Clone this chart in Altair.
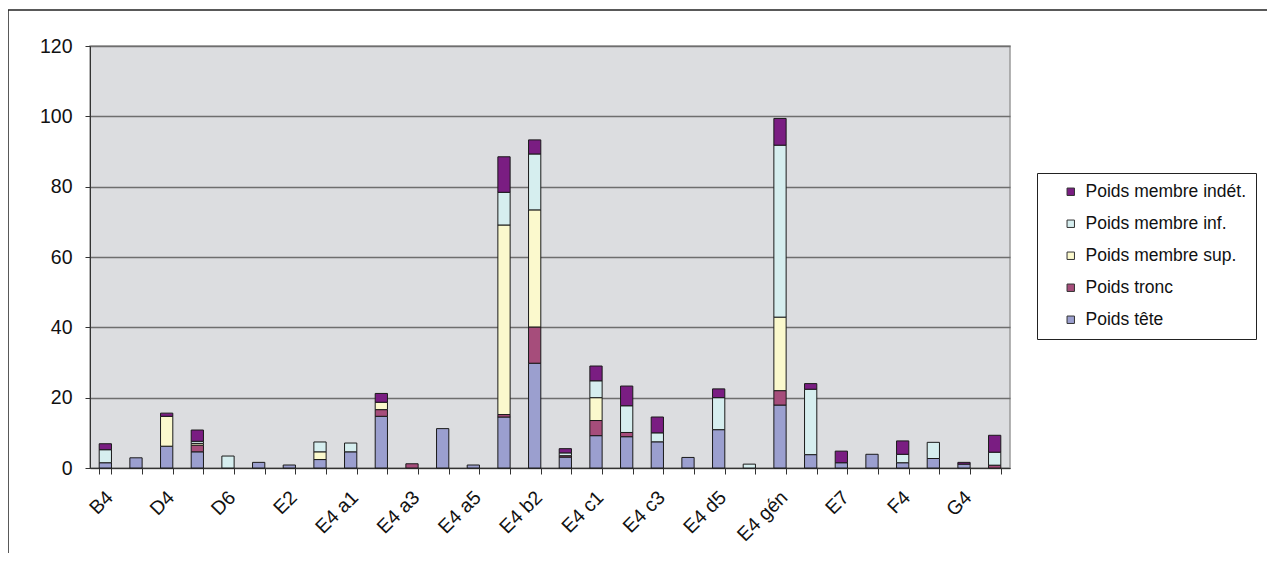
import altair as alt
import pandas as pd

categories = ["B4", "C4", "D4", "D5", "D6", "E1", "E2", "E3", "E4 a1", "E4 a2",
              "E4 a3", "E4 a4", "E4 a5", "E4 b1", "E4 b2", "E4 b3", "E4 c1", "E4 c2",
              "E4 c3", "E4 d4", "E4 d5", "E4 d6", "E4 gén", "E6", "E7", "F3",
              "F4", "G3", "G4", "H4"]
shown_labels = ["B4", "D4", "D6", "E2", "E4 a1", "E4 a3", "E4 a5", "E4 b2",
                "E4 c1", "E4 c3", "E4 d5", "E4 gén", "E7", "F4", "G4"]

tete = [1.5, 2.9, 6.2, 4.6, 0, 1.6, 0.85, 2.4, 4.6, 14.7, 0, 11.2, 0.85, 14.5, 29.8,
        3.1, 9.2, 8.9, 7.45, 3.0, 10.9, 0, 17.9, 3.8, 1.5, 3.9, 1.5, 2.7, 1.1, 0]
tronc = [0, 0, 0, 1.9, 0, 0, 0, 0, 0, 1.9, 1.2, 0, 0, 0.7, 10.3,
         0.4, 4.3, 1.2, 0, 0, 0, 0, 4.1, 0, 0, 0, 0, 0, 0, 0.8]
sup = [0, 0, 8.5, 0.5, 0, 0, 0, 2.2, 0, 2.1, 0, 0, 0, 53.9, 33.3,
       0, 6.5, 0, 0, 0, 0, 0, 20.9, 0, 0, 0, 0, 0, 0, 0]
inf = [3.7, 0, 0, 0.6, 3.4, 0, 0, 2.8, 2.5, 0, 0, 0, 0, 9.3, 15.9,
       0.8, 4.8, 7.6, 2.55, 0, 9.1, 1.1, 48.9, 18.6, 0, 0, 2.4, 4.6, 0, 3.7]
indet = [1.7, 0, 0.9, 3.2, 0, 0, 0, 0, 0, 2.5, 0, 0, 0, 10.1, 4.0,
         1.2, 4.2, 5.6, 4.5, 0, 2.5, 0, 7.6, 1.6, 3.3, 0, 3.8, 0, 0.5, 4.8]

series_names = ["Poids tête", "Poids tronc", "Poids membre sup.",
                "Poids membre inf.", "Poids membre indét."]
series_values = [tete, tronc, sup, inf, indet]
series_colors = ["#9B9FCF", "#A64D7B", "#FBF9CD", "#D6EEEF", "#7A1D82"]

rows = []
for k, (name, vals) in enumerate(zip(series_names, series_values)):
    for cat, v in zip(categories, vals):
        if v > 0:
            rows.append({"cat": cat, "serie": name, "val": v, "ordre": k})
df = pd.DataFrame(rows)

legend_order = list(reversed(series_names))
legend_colors = list(reversed(series_colors))

label_list = "[" + ",".join("'" + s + "'" for s in shown_labels) + "]"

bars = alt.Chart(df).mark_bar(stroke="#1a1a1a", strokeWidth=1).encode(
    x=alt.X("cat:N", sort=categories,
            scale=alt.Scale(paddingInner=0.6, paddingOuter=0.3),
            axis=alt.Axis(title=None, tickBand="extent", tickSize=6,
                          tickColor="#333", domainColor="#333",
                          labelAngle=-45, labelAlign="right", labelBaseline="middle",
                          labelOffset=4, labelPadding=20, labelFontSize=19.5,
                          labelOverlap=False, labelColor="#111",
                          labelExpr="indexof(" + label_list + ", datum.value) >= 0 ? datum.value : ''")),
    y=alt.Y("val:Q", stack="zero",
            scale=alt.Scale(domain=[0, 120], nice=False),
            axis=alt.Axis(title=None, values=[0, 20, 40, 60, 80, 100, 120],
                          tickSize=5, tickColor="#333", domainColor="#333",
                          labelFontSize=19.5, labelPadding=13, labelColor="#111",
                          gridColor="#6e6e6e", gridWidth=1.3)),
    color=alt.Color("serie:N",
                    scale=alt.Scale(domain=legend_order, range=legend_colors),
                    legend=alt.Legend(title=None, orient="none", legendX=947, legendY=127,
                                      strokeColor="#222", fillColor="white",
                                      padding=10, symbolOffset=15,
                                      symbolType="square", symbolSize=55,
                                      symbolStrokeColor="#333", symbolStrokeWidth=1,
                                      labelFontSize=17.5, labelColor="#111",
                                      labelLimit=400,
                                      rowPadding=13, labelOffset=6)),
    order=alt.Order("ordre:Q", sort="ascending"),
)

frame_src = pd.DataFrame({"k": [0]})
frame_top = alt.Chart(frame_src).mark_rule(color="#222", strokeWidth=1.5).encode(
    x=alt.value(-82), x2=alt.value(1177), y=alt.value(-36))
frame_left = alt.Chart(frame_src).mark_rule(color="#222", strokeWidth=1.5).encode(
    x=alt.value(-82), y=alt.value(-36), y2=alt.value(507))

chart = alt.layer(bars, frame_top, frame_left).properties(
    width=920, height=422,
    autosize=alt.AutoSizeParams(type="none"),
    padding={"left": 82, "top": 38, "right": 257, "bottom": 85},
).configure(
    font="Liberation Sans",
).configure_view(
    fill="#DCDDE0", stroke="#9a9a9a", strokeWidth=1.5,
)

chart.save("out.html", embed_options={"renderer": "svg", "actions": False})
